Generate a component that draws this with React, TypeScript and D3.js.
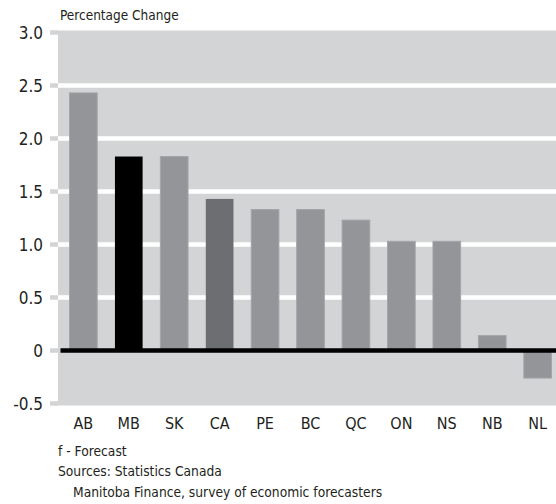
import React from "react";
import * as d3 from "d3";

const categories = ["AB", "MB", "SK", "CA", "PE", "BC", "QC", "ON", "NS", "NB", "NL"];
const values = [2.43, 1.83, 1.83, 1.43, 1.33, 1.33, 1.23, 1.03, 1.03, 0.14, -0.26];
const yTicks = [-0.5, 0, 0.5, 1.0, 1.5, 2.0, 2.5, 3.0];
const yTickLabels = ["-0.5", "0", "0.5", "1.0", "1.5", "2.0", "2.5", "3.0"];
const highlight: Record<string, string> = { MB: "#000000", CA: "#6d6e71" };
const footnotes = ["f - Forecast", "Sources: Statistics Canada", "Manitoba Finance, survey of economic forecasters"];
const footIndent = [0, 0, 15];

const W = 556;
const H = 504;
const FONT = "'Liberation Sans Narrow', 'DejaVu Sans Condensed', 'Roboto Condensed', 'DejaVu Sans', sans-serif";

export default function App() {
  const y = d3.scaleLinear().domain([-0.5, 3]).range([403.5, 32.5]);
  const x = d3.scaleBand<string>().domain(categories).range([69.5, 551.5]).paddingInner(0.391).paddingOuter(0);
  const plotLeft = 58;
  const bw = x.bandwidth();
  return (
    <svg width={W} height={H} style={{ position: "absolute", left: 0, top: 0 }} fontFamily={FONT}>
      <rect x={0} y={0} width={W} height={H} fill="#ffffff" />
      <rect x={plotLeft} y={y(3) - 2} width={W - plotLeft} height={y(-0.5) - y(3) + 4} fill="#d3d4d5" />
      {yTicks.map((t) => (
        <rect key={"tk" + t} x={50} y={y(t) - 2.25} width={plotLeft - 50} height={4.5} fill="#d3d4d5" />
      ))}
      {yTicks.filter((t) => t > -0.5 && t < 3 && t !== 0).map((t) => (
        <rect key={"g" + t} x={plotLeft} y={y(t) - 2.25} width={W - plotLeft} height={4.5} fill="#ffffff" />
      ))}
      {categories.map((c, i) => {
        const v = values[i];
        const top = y(Math.max(0, v));
        const bot = y(Math.min(0, v));
        return (
          <rect
            key={c}
            x={x(c)!}
            y={top}
            width={bw}
            height={bot - top}
            fill={highlight[c] || "#939598"}
            stroke={highlight[c] ? "none" : "#a3a5a8"}
            strokeWidth={1}
          />
        );
      })}
      <rect x={60.5} y={y(0) - 2.25} width={W - 60.5} height={4.5} fill="#000000" />
      {yTicks.map((t, i) => (
        <text key={"yl" + t} x={43} y={y(t)} dy="0.36em" textAnchor="end" fontSize={17} fill="#231f20">
          {yTickLabels[i]}
        </text>
      ))}
      <text x={60} y={20} fontSize={13.5} fill="#231f20">Percentage Change</text>
      {categories.map((c) => (
        <text key={"xl" + c} x={x(c)! + bw / 2} y={429} textAnchor="middle" fontSize={16} fill="#231f20">
          {c}
        </text>
      ))}
      {footnotes.map((f, i) => (
        <text key={"fn" + i} x={58 + footIndent[i]} y={456 + i * 20.3} fontSize={13.7} fill="#231f20">
          {f}
        </text>
      ))}
    </svg>
  );
}
